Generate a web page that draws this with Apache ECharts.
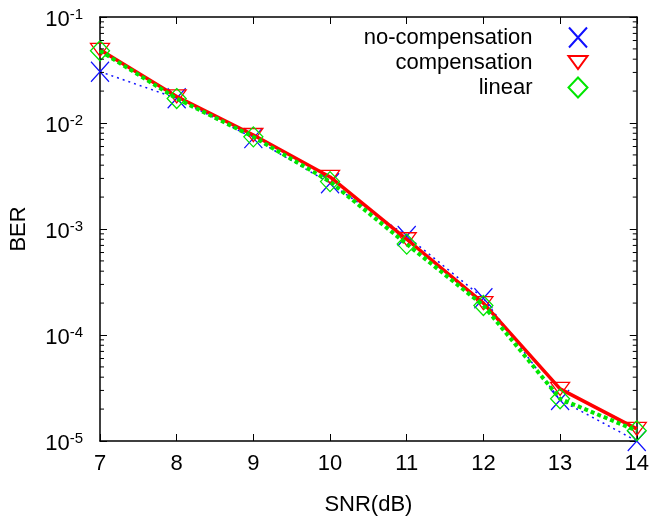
<!DOCTYPE html>
<html>
<head>
<meta charset="utf-8">
<title>BER vs SNR</title>
<script src="https://cdn.jsdelivr.net/npm/echarts@6/dist/echarts.min.js"></script>
<style>
html, body { margin: 0; padding: 0; background: #fff; }
#chart { width: 652px; height: 523px; }
</style>
</head>
<body>
<div id="chart"></div>
<script>
// SNR in dB and the three BER curves
const snr = [7, 8, 9, 10, 11, 12, 13, 14]
const noCompensation = [0.0305, 0.0171, 0.0072, 0.0027, 0.00086, 0.000222, 2.44e-5, 1.0e-5]
const compensation = [0.049, 0.0178, 0.0077, 0.0031, 0.00080, 0.00020, 3.1e-5, 1.3e-5]
const linear = [0.048, 0.017, 0.0074, 0.0028, 0.00072, 0.00019, 2.5e-5, 1.25e-5]
const seriesNames = ['no-compensation', 'compensation', 'linear']

// minor tick multipliers inside each decade of the log axis
const minorSteps = [2, 3, 4, 5, 6, 7, 8, 9]
const decades = [1e-5, 1e-4, 1e-3, 1e-2]

const FONT = "'Liberation Sans', Arial, Helvetica, sans-serif"
const crossIcon = 'path://M0,0L18,20M18,0L0,20'
const triDownIcon = 'path://M0,0M19,20M0,3.5L19,3.5L9.5,16.5Z'
const diamondIcon = 'path://M9.5,0L19,10L9.5,20L0,10Z'

function pairs(values) {
  return snr.map((x, i) => [x, values[i]])
}

const minorData = []
decades.forEach(d => {
  minorSteps.forEach(m => minorData.push([7, m * d]))
})

const chart = echarts.init(document.getElementById('chart'))

const option = {
  backgroundColor: '#fff',
  animation: false,
  textStyle: { fontFamily: FONT },
  grid: {
    left: 97,
    right: 15,
    top: 17,
    bottom: 82
  },
  legend: {
    orient: 'vertical',
    right: 62,
    top: 25,
    padding: 0,
    align: 'right',
    itemWidth: 19,
    itemHeight: 20,
    itemGap: 0,
    selectedMode: false,
    textStyle: {
      fontSize: 22,
      color: '#000',
      fontFamily: FONT,
      padding: [0, 31, 0, 0]
    },
    data: [
      { name: seriesNames[0], icon: crossIcon },
      { name: seriesNames[1], icon: triDownIcon },
      { name: seriesNames[2], icon: diamondIcon }
    ]
  },
  xAxis: [
    {
      type: 'value',
      min: 7,
      max: 14,
      interval: 1,
      name: 'SNR(dB)',
      nameLocation: 'middle',
      nameGap: 53,
      nameTextStyle: { fontSize: 22, color: '#000', fontFamily: FONT },
      axisLine: { lineStyle: { color: '#000', width: 1.5 } },
      axisTick: { inside: true, length: 7, lineStyle: { color: '#000', width: 1 } },
      axisLabel: { fontSize: 22, color: '#000', margin: 12, fontFamily: FONT },
      splitLine: { show: false }
    },
    {
      type: 'value',
      position: 'top',
      min: 7,
      max: 14,
      interval: 1,
      axisLine: { lineStyle: { color: '#000', width: 1.5 } },
      axisTick: { inside: true, length: 7, lineStyle: { color: '#000', width: 1 } },
      axisLabel: { show: false },
      splitLine: { show: false }
    }
  ],
  yAxis: [
    {
      type: 'log',
      logBase: 10,
      min: 1e-5,
      max: 1e-1,
      name: 'BER',
      nameLocation: 'middle',
      nameGap: 70,
      nameTextStyle: { fontSize: 22, color: '#000', fontFamily: FONT },
      axisLine: { show: true, lineStyle: { color: '#000', width: 1.5 } },
      axisTick: { show: true, inside: true, length: 7, lineStyle: { color: '#000', width: 1 } },
      axisLabel: {
        margin: 17,
        color: '#000',
        fontFamily: FONT,
        formatter: function(v) {
          const e = Math.round(Math.log10(v))
          return '{b|10}{s|' + e + '}'
        },
        rich: {
          b: { fontSize: 22, lineHeight: 30, padding: [6, 0, 0, 0], color: '#000', fontFamily: FONT },
          s: { fontSize: 15, lineHeight: 10, padding: [5, 0, 0, 0], verticalAlign: 'top', color: '#000', fontFamily: FONT }
        }
      },
      splitLine: { show: false }
    },
    {
      type: 'log',
      logBase: 10,
      min: 1e-5,
      max: 1e-1,
      position: 'right',
      axisLine: { show: true, lineStyle: { color: '#000', width: 1.5 } },
      axisTick: { show: true, inside: true, length: 7, lineStyle: { color: '#000', width: 1 } },
      axisLabel: { show: false },
      splitLine: { show: false }
    }
  ],
  series: [
    {
      name: seriesNames[0],
      type: 'line',
      data: pairs(noCompensation),
      clip: false,
      symbol: crossIcon,
      symbolSize: [18, 20],
      lineStyle: { color: '#1010ff', width: 1.5, type: [2, 4] },
      itemStyle: { color: 'none', borderColor: '#1010ff', borderWidth: 1.3 },
      z: 3
    },
    {
      name: seriesNames[1],
      type: 'line',
      data: pairs(compensation),
      clip: false,
      symbol: triDownIcon,
      symbolSize: [19, 20],
      lineStyle: { color: '#ff0000', width: 3.5 },
      itemStyle: { color: 'none', borderColor: '#ff0000', borderWidth: 1.3 },
      z: 4
    },
    {
      name: seriesNames[2],
      type: 'line',
      data: pairs(linear),
      clip: false,
      symbol: diamondIcon,
      symbolSize: [19, 20],
      lineStyle: { color: '#00e600', width: 4, type: [4, 3] },
      itemStyle: { color: 'none', borderColor: '#00e600', borderWidth: 1.3 },
      z: 5
    },
    {
      // minor ticks of the log scale on left and right borders
      type: 'custom',
      silent: true,
      clip: false,
      z: 10,
      data: minorData,
      renderItem: function(params, api) {
        const v = api.value(1)
        const l = api.coord([7, v])
        const r = api.coord([14, v])
        return {
          type: 'group',
          children: [
            { type: 'line', shape: { x1: l[0], y1: l[1], x2: l[0] + 4, y2: l[1] }, style: { stroke: '#000', lineWidth: 1 } },
            { type: 'line', shape: { x1: r[0], y1: r[1], x2: r[0] - 4, y2: r[1] }, style: { stroke: '#000', lineWidth: 1 } }
          ]
        }
      }
    }
  ]
}

chart.setOption(option)
</script>
</body>
</html>
